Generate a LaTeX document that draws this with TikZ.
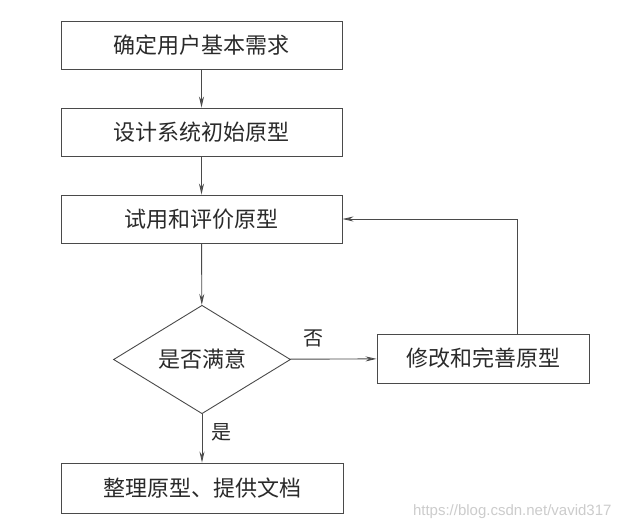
\documentclass[tikz,border=0pt]{standalone}
\usepackage{fontspec}
\newfontfamily\cjk{Noto Sans CJK SC}
\usetikzlibrary{shapes.geometric,arrows.meta}
\definecolor{inkline}{HTML}{4A4A4A}
\definecolor{inktext}{HTML}{2A2A2A}
\begin{document}
\begin{tikzpicture}[x=1pt,y=-1pt,
  stepbox/.style={draw=inkline,line width=0.9pt,rectangle,inner sep=0pt,
    minimum height=48pt,text=inktext,font=\cjk\fontsize{22}{26}\selectfont},
  decide/.style={draw=inkline,line width=0.9pt,diamond,inner sep=0pt,
    minimum width=177pt,minimum height=105pt,text=inktext,font=\cjk\fontsize{22}{26}\selectfont},
  flow/.style={draw=inkline,line width=0.9pt,-{Stealth[length=11pt,width=5pt,fill=gray!70]}},
  lbl/.style={text=inktext,font=\cjk\fontsize{20}{24}\selectfont,inner sep=0pt}]
\useasboundingbox[fill=white] (0,0) rectangle (624,530);
\node[stepbox,minimum width=281pt] (b1) at (201.5,45) {确定用户基本需求};
\node[stepbox,minimum width=281pt] (b2) at (201.5,132) {设计系统初始原型};
\node[stepbox,minimum width=281pt] (b3) at (201.5,219) {试用和评价原型};
\node[decide] (d) at (202,359.5) {是否满意};
\node[stepbox,minimum width=212pt,minimum height=49pt] (b4) at (483,358.5) {修改和完善原型};
\node[stepbox,minimum width=282pt,minimum height=50pt] (b5) at (202,488) {整理原型、提供文档};
\coordinate (c1) at (517,219);
\draw[flow] (b1) -- (b2);
\draw[flow] (b2) -- (b3);
\draw[flow] (b3) -- (d);
\draw[flow] (d) -- (b4);
\draw[flow] (d) -- (b5);
\draw[flow] (b4.north -| c1) -- (c1) -- (b3.east);
\node[lbl] (no) at (313,338) {否};
\node[lbl] (yes) at (221,432) {是};
\node[text=gray!40,font=\fontspec{Liberation Sans}\fontsize{15}{17}\selectfont,anchor=east] (wm) at (615,512) {https://blog.csdn.net/vavid317};
\end{tikzpicture}
\end{document}
